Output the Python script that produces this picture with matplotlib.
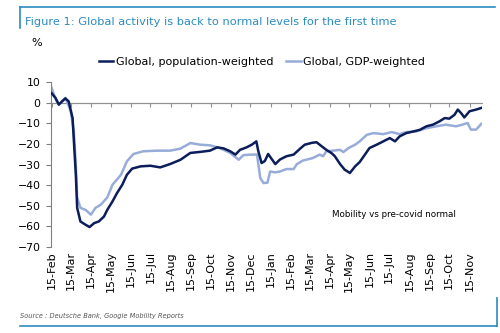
import matplotlib
matplotlib.use("Agg")
import matplotlib.pyplot as plt
import matplotlib.dates as mdates
import numpy as np
import pandas as pd

# population-weighted series
pop_dates = ["2020-02-15", "2020-02-21", "2020-02-26", "2020-03-02", "2020-03-07", "2020-03-12",
             "2020-03-18", "2020-03-20", "2020-03-23", "2020-03-25", "2020-03-30", "2020-04-07",
             "2020-04-13", "2020-04-20", "2020-04-27", "2020-05-05", "2020-05-10", "2020-05-18",
             "2020-05-25", "2020-06-02", "2020-06-09", "2020-06-17", "2020-06-30", "2020-07-15",
             "2020-07-30", "2020-08-14", "2020-08-30", "2020-09-14", "2020-09-29", "2020-10-14",
             "2020-10-25", "2020-11-04", "2020-11-14", "2020-11-22", "2020-11-29", "2020-12-09",
             "2020-12-17", "2020-12-24", "2020-12-27", "2021-01-01", "2021-01-06", "2021-01-11",
             "2021-01-17", "2021-01-22", "2021-01-29", "2021-02-08", "2021-02-19", "2021-03-01",
             "2021-03-08", "2021-03-19", "2021-03-26", "2021-04-03", "2021-04-10", "2021-04-18",
             "2021-04-23", "2021-05-01", "2021-05-08", "2021-05-16", "2021-05-24", "2021-05-31",
             "2021-06-08", "2021-06-15", "2021-06-26", "2021-07-06", "2021-07-16", "2021-07-24",
             "2021-07-31", "2021-08-10", "2021-08-21", "2021-08-31", "2021-09-10", "2021-09-20",
             "2021-09-30", "2021-10-08", "2021-10-15", "2021-10-23", "2021-10-28", "2021-11-02",
             "2021-11-07", "2021-11-15", "2021-11-25", "2021-12-03"]
pop_vals = [4.5, 2.2, -1.0, 0.6, 2.0, 0.6,
            -7.5, -18.8, -35, -51, -57.6, -59.2,
            -60.3, -58.4, -57.6, -55.2, -52, -47.9,
            -43.8, -39.8, -35, -32, -30.9, -30.6,
            -31.4, -29.8, -27.7, -24.4, -23.9, -23.3,
            -21.7, -22.2, -23.6, -25.2, -22.9, -21.7,
            -20.4, -18.8, -23.6, -29.3, -28.3, -24.9,
            -27.6, -29.8, -27.6, -26, -25.2, -22.3,
            -20.4, -19.5, -19.2, -21.2, -22.9, -24.5,
            -26, -29.8, -32.5, -34.1, -30.9, -28.8,
            -25.2, -22, -20.4, -18.8, -17.2, -18.8,
            -16.4, -14.8, -14, -13.2, -11.5, -10.7,
            -9.1, -7.5, -7.8, -5.9, -3.4, -5.1,
            -7.2, -4.2, -3.4, -2.6]

# GDP-weighted series
gdp_dates = ["2020-02-15", "2020-02-21", "2020-02-26", "2020-03-07", "2020-03-15", "2020-03-20",
             "2020-03-23", "2020-03-25", "2020-03-30", "2020-04-07", "2020-04-15", "2020-04-22",
             "2020-04-30", "2020-05-10", "2020-05-18", "2020-05-31", "2020-06-09", "2020-06-19",
             "2020-07-04", "2020-07-25", "2020-08-14", "2020-08-30", "2020-09-14", "2020-09-29",
             "2020-10-14", "2020-10-29", "2020-11-14", "2020-11-27", "2020-12-04", "2020-12-15",
             "2020-12-25", "2020-12-30", "2021-01-04", "2021-01-10", "2021-01-14", "2021-01-22",
             "2021-01-29", "2021-02-08", "2021-02-19", "2021-02-24", "2021-03-05", "2021-03-20",
             "2021-03-31", "2021-04-05", "2021-04-10", "2021-04-20", "2021-05-01", "2021-05-06",
             "2021-05-14", "2021-05-24", "2021-05-31", "2021-06-11", "2021-06-21", "2021-07-06",
             "2021-07-19", "2021-07-31", "2021-08-10", "2021-08-25", "2021-09-10", "2021-09-25",
             "2021-10-10", "2021-10-25", "2021-11-04", "2021-11-12", "2021-11-17", "2021-11-25",
             "2021-12-03"]
gdp_vals = [7.1, 1.6, -1.0, 2.3, -3.9, -14,
            -31, -46, -51, -52, -54.3, -51,
            -49.5, -46, -39.8, -35, -28.5, -24.9,
            -23.6, -23.3, -23.3, -22.3, -19.6, -20.4,
            -20.7, -22, -24.4, -27.7, -25.5, -25.2,
            -25.2, -36.6, -39, -38.8, -33.4, -33.8,
            -33.4, -32.2, -32.2, -29.8, -28.1, -26.9,
            -25.2, -26, -23.6, -23.3, -22.9, -24,
            -22, -20.4, -18.8, -15.6, -14.8, -15.3,
            -14.3, -15.3, -14.3, -14, -12.4, -11.5,
            -10.7, -11.5, -10.7, -9.9, -13.1, -13.1,
            -10.3]

tick_dates = pd.date_range("2020-02-01", periods=22, freq="MS") + pd.Timedelta(days=14)
yticks = list(range(-70, 11, 10))

dark = "#0b1d5a"
light = "#97acd8"
teal = "#2a8cbf"

fig = plt.figure(figsize=(5, 3.33), dpi=100)
ax = fig.add_axes([0.102, 0.258, 0.862, 0.496])

ax.plot(pd.to_datetime(gdp_dates), gdp_vals, color=light, lw=1.8, label="Global, GDP-weighted", zorder=2)
ax.plot(pd.to_datetime(pop_dates), pop_vals, color=dark, lw=1.8, label="Global, population-weighted", zorder=3)

ax.set_ylim(-70, 10)
ax.set_xlim(pd.Timestamp("2020-02-14"), pd.Timestamp("2021-12-04"))
ax.set_yticks(yticks)
ax.tick_params(axis="y", labelsize=7.8, length=3.5, color="#808080", pad=4)

ax.set_xticks(tick_dates)
ax.set_xticklabels([d.strftime("%d-%b") for d in tick_dates], rotation=90, fontsize=8)
ax.tick_params(axis="x", length=0, pad=3)

for s in ["top", "right", "bottom"]:
    ax.spines[s].set_visible(False)
ax.spines["left"].set_color("#808080")
ax.spines["left"].set_linewidth(0.8)

# zero line with ticks
sec = ax.secondary_xaxis(0, transform=ax.transData)
sec.set_xticks(mdates.date2num(tick_dates))
sec.tick_params(axis="x", length=3, color="#909090", labelbottom=False, labeltop=False)
sec.spines["bottom"].set_visible(True)
sec.spines["bottom"].set_color("#909090")
sec.spines["bottom"].set_linewidth(0.8)
ax.axhline(0, color="#909090", lw=0.8, zorder=1)

ax.text(0.796, 0.2, "Mobility vs pre-covid normal", transform=ax.transAxes,
        fontsize=6.3, ha="center", va="center")

handles, labels = ax.get_legend_handles_labels()
fig.legend(handles[::-1], labels[::-1], loc="center", bbox_to_anchor=(0.524, 0.813), ncol=2,
           frameon=False, fontsize=8, handlelength=1.3, handletextpad=0.2, columnspacing=1.2)

fig.text(0.062, 0.863, "%", fontsize=8)
fig.text(0.05, 0.935, "Figure 1: Global activity is back to normal levels for the first time",
         color=teal, fontsize=8.2, va="center")
fig.text(0.04, 0.051, "Source : Deutsche Bank, Google Mobility Reports", fontsize=4.8,
         style="italic", color="#555555", va="center")

# frame decorations
fig.add_artist(plt.Line2D([0.04, 0.99], [0.979, 0.979], color=teal, lw=1.2))
fig.add_artist(plt.Line2D([0.04, 0.04], [0.979, 0.915], color=teal, lw=1.2))
fig.add_artist(plt.Line2D([0.04, 0.994], [0.021, 0.021], color=teal, lw=1.2))
fig.add_artist(plt.Line2D([0.994, 0.994], [0.021, 0.105], color=teal, lw=1.2))

fig.savefig("out.png", dpi=100)
